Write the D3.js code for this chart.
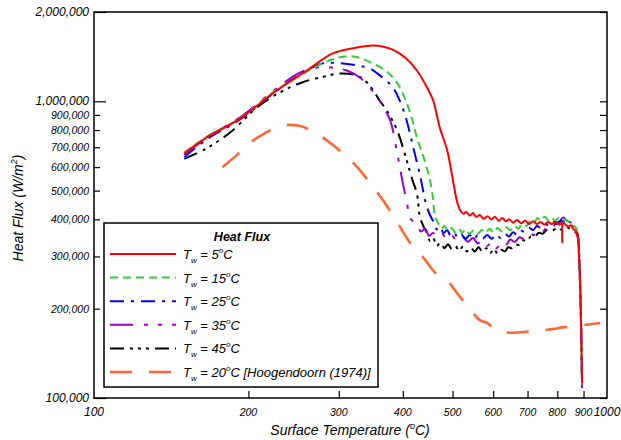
<!DOCTYPE html>
<html lang="en">
<head>
<meta charset="UTF-8">
<title>Heat Flux</title>
<script src="https://cdn.jsdelivr.net/npm/d3@7"></script>
<style>
  body { margin: 0; background: #fff; }
  text { font-family: "Liberation Sans", Arial, sans-serif; font-style: italic; }
</style>
</head>
<body>
<div class="chart"></div>
<script>
// surface temperature (C), heat flux (W/m2)
const tw5 = [[150,668e3],[166,756e3],[193,876e3],[223,1064e3],[260,1270e3],[292,1450e3],[320,1510e3],[345,1540e3],[365,1530e3],[383,1490e3],[405,1400e3],[426,1270e3],[445,1120e3],[458,1010e3],[472,817e3],[488,684e3],[501,540e3],[510,460e3],[517,430e3],[525,418e3],[532,424e3],[540,412e3],[548,420e3],[556,408e3],[565,414e3],[575,402e3],[585,410e3],[595,400e3],[605,408e3],[615,396e3],[625,404e3],[635,394e3],[645,400e3],[656,390e3],[668,398e3],[680,388e3],[692,396e3],[705,386e3],[718,394e3],[730,386e3],[742,392e3],[755,384e3],[768,392e3],[780,386e3],[795,392e3],[808,384e3],[815,390e3],[818,335e3],[821,388e3],[830,384e3],[840,378e3],[850,382e3],[859,372e3],[868,366e3],[876,350e3],[882,300e3],[887,225e3],[891,160e3],[894,112e3]]
const tw15 = [[150,672e3],[166,760e3],[193,880e3],[223,1070e3],[260,1260e3],[290,1380e3],[311,1420e3],[330,1400e3],[350,1340e3],[370,1270e3],[383,1200e3],[396,1100e3],[407,985e3],[417,870e3],[426,756e3],[440,640e3],[452,541e3],[458,470e3],[462,410e3],[470,385e3],[476,372e3],[482,380e3],[490,366e3],[498,374e3],[506,362e3],[514,372e3],[522,360e3],[530,370e3],[540,358e3],[550,368e3],[560,358e3],[570,368e3],[580,360e3],[590,372e3],[600,362e3],[612,374e3],[624,364e3],[636,376e3],[648,368e3],[660,380e3],[672,372e3],[684,386e3],[696,380e3],[708,394e3],[720,388e3],[732,404e3],[744,396e3],[756,408e3],[768,398e3],[780,406e3],[792,396e3],[805,404e3],[818,394e3],[830,400e3],[845,390e3],[860,382e3],[870,375e3],[879,345e3],[884,290e3],[888,220e3],[891,160e3],[894,112e3]]
const tw25 = [[150,648e3],[166,745e3],[193,870e3],[223,1060e3],[250,1220e3],[278,1340e3],[300,1345e3],[326,1320e3],[345,1290e3],[357,1240e3],[370,1180e3],[383,1110e3],[395,1000e3],[407,860e3],[419,700e3],[432,563e3],[442,464e3],[446,439e3],[452,413e3],[460,390e3],[466,370e3],[473,378e3],[480,360e3],[488,368e3],[496,352e3],[504,360e3],[512,346e3],[520,356e3],[530,344e3],[540,354e3],[550,342e3],[560,354e3],[572,344e3],[584,354e3],[596,344e3],[608,356e3],[620,346e3],[632,358e3],[644,350e3],[656,362e3],[668,354e3],[680,366e3],[692,362e3],[705,374e3],[718,368e3],[730,380e3],[744,374e3],[758,386e3],[772,380e3],[786,392e3],[800,386e3],[815,396e3],[830,388e3],[845,384e3],[860,376e3],[870,370e3],[879,345e3],[884,290e3],[888,220e3],[891,160e3],[894,112e3]]
const tw35 = [[150,660e3],[166,755e3],[193,885e3],[223,1080e3],[250,1240e3],[272,1300e3],[290,1300e3],[311,1270e3],[330,1200e3],[345,1110e3],[361,1000e3],[378,860e3],[390,668e3],[400,529e3],[407,460e3],[413,405e3],[420,392e3],[426,383e3],[434,364e3],[442,372e3],[450,352e3],[458,360e3],[468,346e3],[478,356e3],[488,342e3],[498,352e3],[510,340e3],[522,350e3],[535,336e3],[548,346e3],[560,332e3],[572,342e3],[584,326e3],[596,336e3],[609,320e3],[622,334e3],[635,328e3],[648,342e3],[661,336e3],[675,348e3],[690,344e3],[705,360e3],[720,354e3],[735,368e3],[750,364e3],[765,378e3],[780,374e3],[795,388e3],[810,396e3],[822,406e3],[835,396e3],[850,390e3],[862,380e3],[870,372e3],[879,345e3],[884,290e3],[888,220e3],[891,160e3],[894,108e3]]
const tw45 = [[150,640e3],[166,695e3],[185,790e3],[208,955e3],[230,1070e3],[255,1160e3],[280,1210e3],[301,1240e3],[326,1220e3],[340,1160e3],[350,1090e3],[360,1010e3],[372,932e3],[390,797e3],[407,632e3],[418,540e3],[426,490e3],[432,407e3],[440,375e3],[446,359e3],[452,338e3],[458,346e3],[466,326e3],[474,334e3],[482,320e3],[490,330e3],[498,318e3],[506,326e3],[515,314e3],[524,324e3],[533,312e3],[542,322e3],[552,312e3],[562,322e3],[572,310e3],[582,320e3],[592,308e3],[602,318e3],[612,306e3],[622,316e3],[632,312e3],[642,322e3],[652,320e3],[662,330e3],[674,328e3],[686,340e3],[698,338e3],[710,350e3],[722,348e3],[735,360e3],[750,358e3],[765,370e3],[780,366e3],[800,374e3],[820,368e3],[835,376e3],[850,370e3],[865,364e3],[876,354e3],[882,300e3],[887,225e3],[891,160e3],[894,112e3]]
const hoogendoorn = [[178,600e3],[190,660e3],[201,722e3],[215,780e3],[234,830e3],[252,825e3],[268,790e3],[284,740e3],[305,670e3],[326,600e3],[345,530e3],[366,464e3],[390,391e3],[415,330e3],[438,298e3],[465,262e3],[488,249e3],[510,226e3],[540,200e3],[565,183e3],[584,179e3],[606,170e3],[626,167e3],[660,166e3],[687,167e3],[720,168e3],[750,169e3],[790,171e3],[818,173e3],[880,175e3],[920,177e3],[970,179e3]]

const xMajor = [100, 1000]
const xMinor = [200, 300, 400, 500, 600, 700, 800, 900]
const yMajor = [100000, 1000000, 2000000]
const yMinor = [200000, 300000, 400000, 500000, 600000, 700000, 800000, 900000]

const legendTemps = ['5', '15', '25', '35', '45', '20']

const series = [
    { data: tw5, color: '#ff0000', dash: null },
    { data: tw15, color: '#33cc33', dash: '8,5' },
    { data: tw25, color: '#0000ff', dash: '14,7,3,7' },
    { data: tw35, color: '#9900cc', dash: '23,11,4,10,4,10' },
    { data: tw45, color: '#000000', dash: '14,6,3,5,3,5,3,6' },
    { data: hoogendoorn, color: '#ff6633', dash: '22,17', width: 2.6 }
]

const width = 621
const height = 440
const x = d3.scaleLog().domain([100, 1000]).range([94, 607])
const y = d3.scaleLog().domain([100000, 2000000]).range([398, 12])
const fmt = d3.format(',')

const svg = d3.select('.chart').append('svg')
    .attr('width', width)
    .attr('height', height)

// curves
const line = d3.line()
    .x(d => x(d[0]))
    .y(d => y(d[1]))
    .curve(d3.curveCatmullRom.alpha(0.5))

svg.selectAll('.curve')
    .data(series.slice().reverse())
    .enter().append('path')
    .attr('class', 'curve')
    .attr('d', d => line(d.data))
    .attr('fill', 'none')
    .attr('stroke', d => d.color)
    .attr('stroke-width', d => d.width || 2)
    .attr('stroke-dasharray', d => d.dash)

// axes (ticks inward)
function ticks(g, axis, vals, size) {
    g.call(axis.tickValues(vals).tickSize(size).tickFormat(''))
    g.select('.domain').remove()
    g.selectAll('line').attr('stroke', '#000').attr('stroke-width', 1.2)
}
svg.append('g').attr('transform', 'translate(0,398)').call(ticks, d3.axisTop(x), xMinor, 7)
svg.append('g').attr('transform', 'translate(94,0)').call(ticks, d3.axisRight(y), yMajor, 12)
svg.append('g').attr('transform', 'translate(94,0)').call(ticks, d3.axisRight(y), yMinor, 6)
svg.append('g').attr('transform', 'translate(607,0)').call(ticks, d3.axisLeft(y), yMajor, 7)
svg.append('g').attr('transform', 'translate(607,0)').call(ticks, d3.axisLeft(y), yMinor, 7)

svg.append('rect')
    .attr('x', 94).attr('y', y(2000000))
    .attr('width', 607 - 94).attr('height', 398 - y(2000000))
    .attr('fill', 'none').attr('stroke', '#000').attr('stroke-width', 1.5)

// tick labels
svg.selectAll('.ylab')
    .data(yMajor.concat(yMinor))
    .enter().append('text')
    .attr('x', 89)
    .attr('y', d => y(d) + 4)
    .attr('text-anchor', 'end')
    .attr('font-size', d => yMajor.includes(d) ? 12 : 10.5)
    .text(d => fmt(d))

svg.selectAll('.xlab')
    .data(xMajor.concat(xMinor))
    .enter().append('text')
    .attr('x', d => x(d))
    .attr('y', 416)
    .attr('text-anchor', 'middle')
    .attr('font-size', d => xMajor.includes(d) ? 12 : 10.5)
    .text(d => d)

// axis titles
const xt = svg.append('text')
    .attr('x', 350).attr('y', 435)
    .attr('text-anchor', 'middle')
    .attr('font-size', 14)
xt.append('tspan').text('Surface Temperature (')
xt.append('tspan').attr('font-size', 9).attr('dy', -6).text('o')
xt.append('tspan').attr('dy', 6).text('C)')

const yt = svg.append('text')
    .attr('transform', 'translate(23,208) rotate(-90)')
    .attr('text-anchor', 'middle')
    .attr('font-size', 14)
yt.append('tspan').text('Heat Flux (W/m')
yt.append('tspan').attr('font-size', 9).attr('dy', -6).text('2')
yt.append('tspan').attr('dy', 6).text(')')

// legend
const legend = svg.append('g')
legend.append('rect')
    .attr('x', 104).attr('y', 223)
    .attr('width', 274).attr('height', 164)
    .attr('fill', '#fff').attr('stroke', '#000').attr('stroke-width', 1.5)
legend.append('text')
    .attr('x', 242).attr('y', 241)
    .attr('text-anchor', 'middle')
    .attr('font-size', 12.5)
    .attr('font-weight', 'bold')
    .text('Heat Flux')

const rows = legend.selectAll('.row')
    .data(series)
    .enter().append('g')
    .attr('transform', (d, i) => `translate(0, ${254 + i * 23.6})`)
rows.append('line')
    .attr('x1', 110).attr('x2', 176)
    .attr('stroke', d => d.color)
    .attr('stroke-width', d => d.width || 2)
    .attr('stroke-dasharray', d => d.dash)
const lt = rows.append('text')
    .attr('x', 183).attr('y', 5)
    .attr('font-size', 13)
lt.append('tspan').text('T')
lt.append('tspan').attr('font-size', 8).attr('dy', 4).text('w')
lt.append('tspan').attr('dy', -4).text((d, i) => ' = ' + legendTemps[i])
lt.append('tspan').attr('font-size', 8).attr('dy', -6).text('o')
lt.append('tspan').attr('dy', 6).text((d, i) => i === 5 ? 'C [Hoogendoorn (1974)]' : 'C')
</script>
</body>
</html>
